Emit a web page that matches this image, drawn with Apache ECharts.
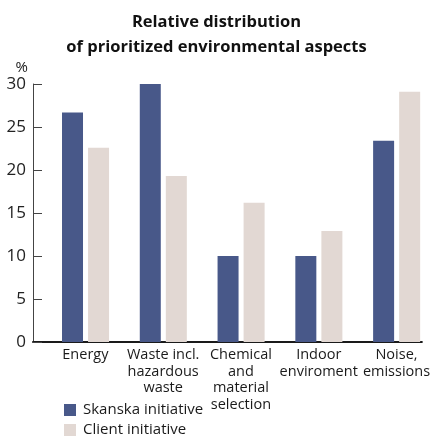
<!DOCTYPE html>
<html>
<head>
<meta charset="utf-8">
<script src="https://cdn.jsdelivr.net/npm/echarts@6/dist/echarts.min.js"></script>
<style>
  html, body { margin: 0; padding: 0; background: #fff; }
  #chart { width: 433px; height: 437px; }
</style>
</head>
<body>
<div id="chart"></div>
<script>
// data
const categories = ['Energy', 'Waste incl.\nhazardous\nwaste', 'Chemical\nand\nmaterial\nselection', 'Indoor\nenviroment', 'Noise,\nemissions']
const skanska = [26.7, 30, 10, 10, 23.4]
const client = [22.6, 19.3, 16.2, 12.9, 29.1]
const spacer = [0, 0, 0, 0, 0] // empty slot so the bar pair sits right of band centre
const yTicks = [0, 5, 10, 15, 20, 25, 30]

const font = '"Open Sans", "Noto Sans", sans-serif'
const myChart = echarts.init(document.getElementById('chart'))

myChart.setOption({
  animation: false,
  title: {
    text: 'Relative distribution\nof prioritized environmental aspects',
    left: 'center',
    top: 5,
    textStyle: { fontFamily: font, fontSize: 16.5, fontWeight: 'bold', color: '#111', lineHeight: 25 }
  },
  legend: {
    orient: 'vertical',
    left: 64,
    top: 402,
    height: 40,
    padding: 0,
    itemWidth: 12,
    itemHeight: 12,
    itemGap: 4,
    icon: 'rect',
    textStyle: { fontFamily: font, fontSize: 15, lineHeight: 16, color: '#1a1a1a', padding: [0, 0, 0, 2] },
    data: ['Skanska initiative', 'Client initiative']
  },
  grid: { left: 33, right: 10, top: 84, bottom: 95 },
  xAxis: {
    type: 'category',
    data: categories,
    axisLine: { lineStyle: { color: '#1a1a1a', width: 2 } },
    axisTick: { show: false },
    axisLabel: {
      interval: 0, fontFamily: font, fontSize: 14.5, color: '#1a1a1a',
      lineHeight: 16.5, margin: 5, padding: [0, 0, 0, 27]
    }
  },
  yAxis: {
    type: 'value',
    min: 0,
    max: 30,
    interval: 5,
    name: '%',
    nameLocation: 'end',
    nameGap: 8,
    nameTextStyle: { fontFamily: font, fontSize: 15, color: '#1a1a1a', align: 'right', padding: [0, 5, 0, 0] },
    axisLine: { show: true, lineStyle: { color: '#444', width: 1 } },
    axisTick: { show: true, inside: true, length: 9, lineStyle: { color: '#444' } },
    splitLine: { show: false },
    axisLabel: {
      fontFamily: font, fontSize: 17, color: '#222', margin: 7,
      formatter: v => yTicks.includes(v) ? String(v) : ''
    }
  },
  series: [
    {
      name: 'spacer',
      type: 'bar',
      data: spacer,
      barWidth: 22,
      barGap: '24%',
      silent: true,
      itemStyle: { color: 'rgba(0,0,0,0)' }
    },
    {
      name: 'Skanska initiative',
      type: 'bar',
      data: skanska,
      barWidth: 21,
      itemStyle: { color: '#485889' }
    },
    {
      name: 'Client initiative',
      type: 'bar',
      data: client,
      barWidth: 21,
      itemStyle: { color: '#e2d8d3' }
    }
  ]
})
</script>
</body>
</html>
